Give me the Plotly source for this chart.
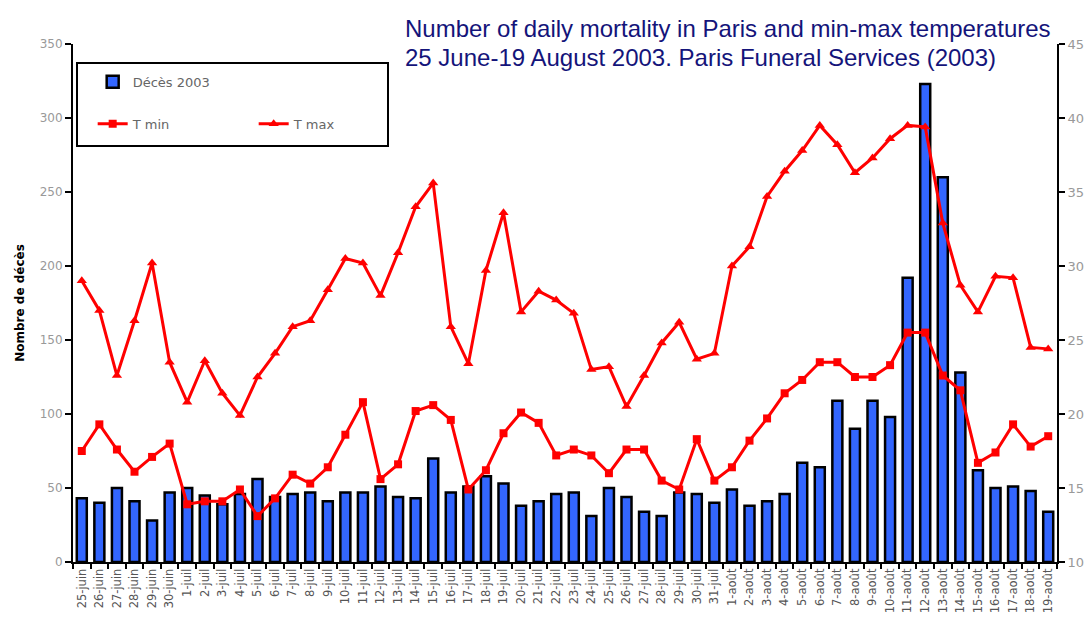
import plotly.graph_objects as go

# ---- data ----
june_days = list(range(25, 31))
july_days = list(range(1, 32))
aug_days = list(range(1, 20))
categories = ([f"{d}-juin" for d in june_days] + [f"{d}-juil" for d in july_days]
              + [f"{d}-août" for d in aug_days])

deces_2003 = [43, 40, 50, 41, 28, 47,
              50, 45, 39, 46, 56, 44, 46, 47, 41, 47, 47, 51, 44, 43, 70, 47, 51, 58, 53,
              38, 41, 46, 47, 31, 50, 44, 34, 31, 47, 46, 40,
              49, 38, 41, 46, 67, 64, 109, 90, 109, 98, 192, 323, 260, 128, 62, 50, 51, 48, 34]

t_min = [17.5, 19.3, 17.6, 16.1, 17.1, 18.0,
         13.9, 14.1, 14.1, 14.9, 13.1, 14.3, 15.9, 15.3, 16.4, 18.6, 20.8, 15.6, 16.6,
         20.2, 20.6, 19.6, 14.9, 16.2, 18.7, 20.1, 19.4, 17.2, 17.6, 17.2, 16.0, 17.6,
         17.6, 15.5, 14.9, 18.3, 15.5,
         16.4, 18.2, 19.7, 21.4, 22.3, 23.5, 23.5, 22.5, 22.5, 23.3, 25.5, 25.5, 22.6,
         21.6, 16.7, 17.4, 19.3, 17.8, 18.5]

t_max = [29.0, 27.0, 22.6, 26.3, 30.2, 23.5,
         20.8, 23.6, 21.4, 19.9, 22.5, 24.1, 25.9, 26.3, 28.4, 30.5, 30.2, 28.0, 30.9,
         34.0, 35.6, 25.9, 23.4, 29.7, 33.6, 26.9, 28.3, 27.7, 26.8, 23.0, 23.2, 20.5,
         22.6, 24.8, 26.2, 23.7, 24.1,
         30.0, 31.3, 34.7, 36.4, 37.8, 39.5, 38.2, 36.3, 37.3, 38.6, 39.5, 39.4, 32.9,
         28.7, 26.9, 29.3, 29.2, 24.5, 24.4]

title_lines = ["Number of daily mortality in Paris and min-max temperatures",
               "25 June-19 August 2003. Paris Funeral Services (2003)"]

# ---- figure ----
fig = go.Figure()

fig.add_trace(go.Bar(
    x=categories, y=deces_2003, name="Décès 2003",
    marker=dict(color="#3366ff", line=dict(color="black", width=2.5)),
    legend="legend",
))

fig.add_trace(go.Scatter(
    x=categories, y=t_min, name="T min", yaxis="y2",
    mode="lines+markers",
    line=dict(color="#ff0000", width=3),
    marker=dict(symbol="square", size=8, color="#ff0000"),
    legend="legend2",
))

fig.add_trace(go.Scatter(
    x=categories, y=t_max, name="T max", yaxis="y2",
    mode="lines+markers",
    line=dict(color="#ff0000", width=3),
    marker=dict(symbol="triangle-up", size=9, color="#ff0000"),
    legend="legend2",
))

wide_font = "DejaVu Sans, Verdana, sans-serif"
title_font = dict(family="Liberation Sans, Arial, sans-serif", size=24, color="#14147a")

fig.update_layout(
    width=1087, height=627,
    margin=dict(l=73, r=30, t=44, b=65),
    paper_bgcolor="white", plot_bgcolor="white",
    bargap=0.43,
    showlegend=True,
    font=dict(family=wide_font),
    xaxis=dict(
        type="category", automargin=False,
        showline=True, linecolor="black", linewidth=2,
        ticks="outside", tickson="boundaries", ticklen=5, tickcolor="black", tickwidth=1.5,
        tickangle=-90,
        tickfont=dict(family=wide_font, size=11.5, color="#555"),
        showgrid=False, zeroline=False,
        range=[-0.5, len(categories) - 0.5],
    ),
    yaxis=dict(
        range=[0, 350], dtick=50, automargin=False,
        showline=True, linecolor="black", linewidth=2,
        ticks="outside", ticklen=6, tickcolor="black", tickwidth=2,
        tickfont=dict(family=wide_font, size=12, color="#999"),
        showgrid=False, zeroline=False,
        title=dict(text="<b>Nombre de décès</b>",
                   font=dict(family=wide_font, size=12, color="black"),
                   standoff=12),
    ),
    yaxis2=dict(
        range=[10, 45], dtick=5, automargin=False,
        overlaying="y", side="right",
        showline=True, linecolor="black", linewidth=2,
        ticks="outside", ticklen=6, tickcolor="black", tickwidth=2,
        tickfont=dict(family=wide_font, size=13, color="#999"),
        showgrid=False, zeroline=False,
    ),
    legend=dict(
        x=0.02, y=0.956, xanchor="left", yanchor="top",
        bgcolor="rgba(0,0,0,0)", borderwidth=0,
        font=dict(family=wide_font, size=13, color="#666"),
    ),
    legend2=dict(
        orientation="h",
        x=0.02, y=0.875, xanchor="left", yanchor="top",
        bgcolor="rgba(0,0,0,0)", borderwidth=0,
        entrywidth=116, entrywidthmode="pixels",
        font=dict(family=wide_font, size=13, color="#666"),
    ),
    shapes=[dict(
        type="rect", xref="paper", yref="paper",
        x0=4 / 984, x1=315 / 984, y0=(562 - 146) / 518, y1=(562 - 63) / 518,
        line=dict(color="black", width=2), fillcolor="rgba(0,0,0,0)", layer="above",
    )],
    annotations=[
        dict(text=title_lines[0], xref="paper", yref="paper",
             x=(403 - 73) / 984, y=(562 - 29) / 518, xanchor="left", yanchor="middle",
             showarrow=False, font=title_font),
        dict(text=title_lines[1], xref="paper", yref="paper",
             x=(403 - 73) / 984, y=(562 - 58) / 518, xanchor="left", yanchor="middle",
             showarrow=False, font=title_font),
    ],
)

fig.write_html("out.html", config={"displayModeBar": False},
               post_script="document.body.style.margin='0px';")
